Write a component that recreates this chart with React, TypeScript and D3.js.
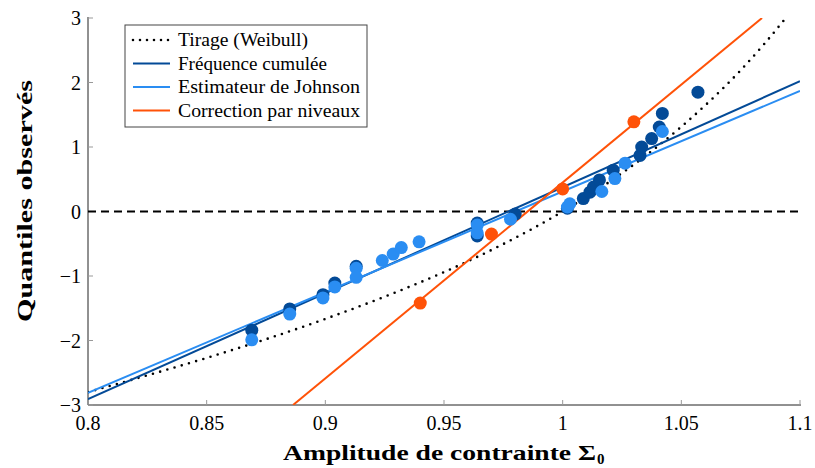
import React from "react";
import * as d3 from "d3";

const xTicks = [0.8, 0.85, 0.9, 0.95, 1, 1.05, 1.1];
const yTicks = [-3, -2, -1, 0, 1, 2, 3];

// Tirage (Weibull) curve
const weibullX = [0.8, 0.825, 0.85, 0.875, 0.9, 0.925, 0.95, 0.975, 1.0, 1.025, 1.0375, 1.05, 1.0625, 1.075, 1.085, 1.094];
const weibullY = [-2.8, -2.54, -2.27, -1.98, -1.665, -1.32, -0.94, -0.504, 0.0, 0.595, 0.937, 1.314, 1.73, 2.19, 2.6, 3.0];

// Fitted lines (endpoints at the axis edges)
const freqLineX = [0.8, 1.1];
const freqLineY = [-2.91, 2.02];
const johnLineX = [0.8, 1.1];
const johnLineY = [-2.81, 1.87];
const corrLineX = [0.8864, 1.084];
const corrLineY = [-3, 3];

// Fréquence cumulée points
const freqX = [0.869, 0.885, 0.899, 0.904, 0.913, 0.964, 0.964, 0.98, 1.002, 1.0087, 1.0115, 1.013, 1.0155, 1.0213, 1.0326, 1.0333, 1.0375, 1.0407, 1.042, 1.057];
const freqY = [-1.84, -1.51, -1.29, -1.11, -0.85, -0.18, -0.38, -0.04, 0.05, 0.2, 0.3, 0.38, 0.49, 0.64, 0.87, 1.0, 1.13, 1.31, 1.52, 1.85];

// Estimateur de Johnson points
const johnX = [0.869, 0.885, 0.899, 0.904, 0.913, 0.913, 0.924, 0.9286, 0.932, 0.9395, 0.964, 0.964, 0.978, 1.002, 1.003, 1.0165, 1.022, 1.0263, 1.042];
const johnY = [-1.99, -1.59, -1.34, -1.17, -0.88, -1.02, -0.76, -0.66, -0.56, -0.47, -0.21, -0.33, -0.12, 0.07, 0.12, 0.31, 0.51, 0.75, 1.24];

// Correction par niveaux points
const corrX = [0.94, 0.97, 1.0, 1.03];
const corrY = [-1.42, -0.35, 0.35, 1.39];

const legendLabels = ["Tirage (Weibull)", "Fréquence cumulée", "Estimateur de Johnson", "Correction par niveaux"];

const DARK = "#034a97";
const LIGHT = "#2a8df2";
const ORANGE = "#ff5208";

export default function App() {
  const W = 815, H = 468;
  const L = 88, R = 800, T = 18, B = 405;
  const x = d3.scaleLinear().domain([0.8, 1.1]).range([L, R]);
  const y = d3.scaleLinear().domain([-3, 3]).range([B, T]);
  const line = d3.line<[number, number]>().x(d => x(d[0])).y(d => y(d[1]));
  const curve = d3.line<[number, number]>().x(d => x(d[0])).y(d => y(d[1])).curve(d3.curveMonotoneX);
  const zip = (a: number[], b: number[]) => a.map((v, i) => [v, b[i]] as [number, number]);
  const font = "Liberation Serif, DejaVu Serif, serif";
  const legendY = [40, 63.5, 87, 110.5];
  const legendW = [130, 149, 182, 182];

  return (
    <svg width={W} height={H} style={{ position: "absolute", left: 0, top: 0, background: "#fff", fontFamily: font }}>
      <defs>
        <clipPath id="plot"><rect x={L} y={T} width={R - L} height={B - T} /></clipPath>
      </defs>
      {/* axes */}
      <line x1={L} y1={T - 1} x2={L} y2={B} stroke="#222" strokeWidth={1} />
      <line x1={L} y1={B} x2={R + 1} y2={B} stroke="#222" strokeWidth={1} />
      {xTicks.map(t => (
        <g key={"xt" + t}>
          <line x1={x(t)} x2={x(t)} y1={B} y2={B - 5} stroke="#999" />
          <text x={x(t)} y={B + 25} fontSize={20} textAnchor="middle" style={{ fontFamily: font }}>{String(t)}</text>
        </g>
      ))}
      {yTicks.map(t => (
        <g key={"yt" + t}>
          <line x1={L} x2={L + 5} y1={y(t)} y2={y(t)} stroke="#999" />
          <text x={L - 7} y={y(t) + 7} fontSize={20} textAnchor="end" style={{ fontFamily: font }}>{t < 0 ? "\u2212" + Math.abs(t) : String(t)}</text>
        </g>
      ))}
      <g clipPath="url(#plot)">
        <path d={curve(zip(weibullX, weibullY)) || ""} fill="none" stroke="#000" strokeWidth={2.6} strokeDasharray="0 7.5" strokeLinecap="round" />
        <line x1={L} x2={R} y1={y(0)} y2={y(0)} stroke="#000" strokeWidth={2} strokeDasharray="8 5" />
        <path d={line(zip(freqLineX, freqLineY)) || ""} fill="none" stroke={DARK} strokeWidth={2} />
        <path d={line(zip(johnLineX, johnLineY)) || ""} fill="none" stroke={LIGHT} strokeWidth={2} />
        <path d={line(zip(corrLineX, corrLineY)) || ""} fill="none" stroke={ORANGE} strokeWidth={2} />
        {freqX.map((v, i) => <circle key={"f" + i} cx={x(v)} cy={y(freqY[i])} r={6.5} fill={DARK} />)}
        {johnX.map((v, i) => <circle key={"j" + i} cx={x(v)} cy={y(johnY[i])} r={6.5} fill={LIGHT} />)}
        {corrX.map((v, i) => <circle key={"c" + i} cx={x(v)} cy={y(corrY[i])} r={6.5} fill={ORANGE} />)}
      </g>
      {/* legend */}
      <rect x={125} y={25} width={242} height={102} fill="#fff" stroke="#444" strokeWidth={1} />
      <line x1={133} x2={172} y1={legendY[0]} y2={legendY[0]} stroke="#000" strokeWidth={2.6} strokeDasharray="0 7" strokeLinecap="round" />
      <line x1={133} x2={170} y1={legendY[1]} y2={legendY[1]} stroke={DARK} strokeWidth={2} />
      <line x1={133} x2={170} y1={legendY[2]} y2={legendY[2]} stroke={LIGHT} strokeWidth={2} />
      <line x1={133} x2={170} y1={legendY[3]} y2={legendY[3]} stroke={ORANGE} strokeWidth={2} />
      {legendLabels.map((s, i) => (
        <text key={s} x={178} y={legendY[i] + 6} fontSize={18} textLength={legendW[i]} lengthAdjust="spacingAndGlyphs" style={{ fontFamily: font }}>{s}</text>
      ))}
      {/* axis titles */}
      <text x={283} y={460} fontSize={21} fontWeight="bold" textLength={313} lengthAdjust="spacingAndGlyphs" style={{ fontFamily: font }}>
        Amplitude de contrainte Σ
      </text>
      <text x={597} y={464} fontSize={15} fontWeight="bold" style={{ fontFamily: font }}>0</text>
      <text transform={`translate(32,${201}) rotate(-90)`} fontSize={21} fontWeight="bold" textAnchor="middle" textLength={242} lengthAdjust="spacingAndGlyphs" style={{ fontFamily: font }}>
        Quantiles observés
      </text>
    </svg>
  );
}
